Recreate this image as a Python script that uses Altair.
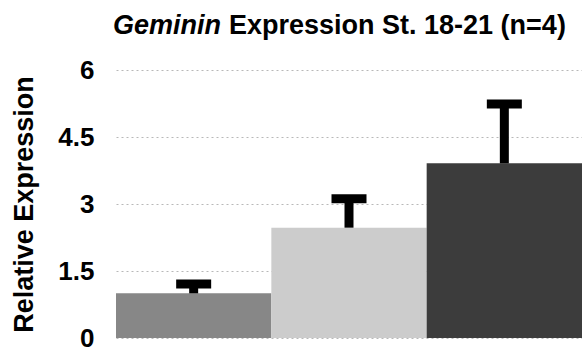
import altair as alt
import pandas as pd

# Relative expression per group, with the upper error (mean + deviation)
groups = ["Group A", "Group B", "Group C"]
means = [1.0, 2.47, 3.91]
errors = [0.21, 0.65, 1.33]
bar_colors = ["#878787", "#cccccc", "#3c3c3c"]
y_ticks = [0, 1.5, 3, 4.5, 6]

df = pd.DataFrame({"group": groups, "mean": means, "err": errors})

FONT = "Liberation Sans"

base = alt.Chart(df).transform_calculate(hi="datum.mean + datum.err")

x_enc = alt.X(
    "group:N",
    sort=groups,
    axis=None,
    scale=alt.Scale(paddingInner=0, paddingOuter=0),
)

bars = base.mark_bar().encode(
    x=x_enc,
    y=alt.Y(
        "mean:Q",
        scale=alt.Scale(domain=[0, 6], nice=False, zero=True),
        axis=alt.Axis(
            values=y_ticks,
            labelExpr="toString(datum.value)",
            title="Relative Expression",
            titleFont=FONT,
            titleFontSize=27,
            titleFontWeight="bold",
            titleColor="black",
            titleAngle=-90,
            titleAlign="center",
            titleBaseline="alphabetic",
            titleX=-84,
            titleY=134,
            labelFont=FONT,
            labelFontSize=26,
            labelFontWeight="bold",
            labelColor="black",
            labelPadding=22,
            ticks=False,
            domain=False,
            grid=True,
            gridColor="#b8b8b8",
            gridDash=[2, 3],
            gridWidth=1,
        ),
    ),
    color=alt.Color(
        "group:N",
        sort=groups,
        scale=alt.Scale(domain=groups, range=bar_colors),
        legend=None,
    ),
)

stems = base.mark_rule(color="black", strokeWidth=9).encode(
    x=x_enc,
    y="mean:Q",
    y2="hi:Q",
)

caps = base.mark_tick(color="black", thickness=9, size=35, opacity=1).encode(
    x=x_enc,
    y="hi:Q",
)

title_italic = alt.Chart(pd.DataFrame({"t": ["Geminin"]})).mark_text(
    font=FONT,
    fontSize=27,
    fontWeight="bold",
    fontStyle="italic",
    align="left",
    baseline="alphabetic",
    color="black",
).encode(text="t:N", x=alt.value(-3), y=alt.value(-36))

title_rest = alt.Chart(pd.DataFrame({"t": ["Expression St. 18-21 (n=4)"]})).mark_text(
    font=FONT,
    fontSize=27,
    fontWeight="bold",
    align="left",
    baseline="alphabetic",
    color="black",
).encode(text="t:N", x=alt.value(113), y=alt.value(-36))

chart = (
    alt.layer(bars, stems, caps, title_italic, title_rest)
    .properties(
        width=466,
        height=268,
        padding={"left": 116, "top": 70, "right": 0, "bottom": 18},
        autosize=alt.AutoSizeParams(type="none"),
        background="white",
    )
    .configure_view(stroke=None)
)

chart.save("out.html", embed_options={"renderer": "svg", "actions": False})
